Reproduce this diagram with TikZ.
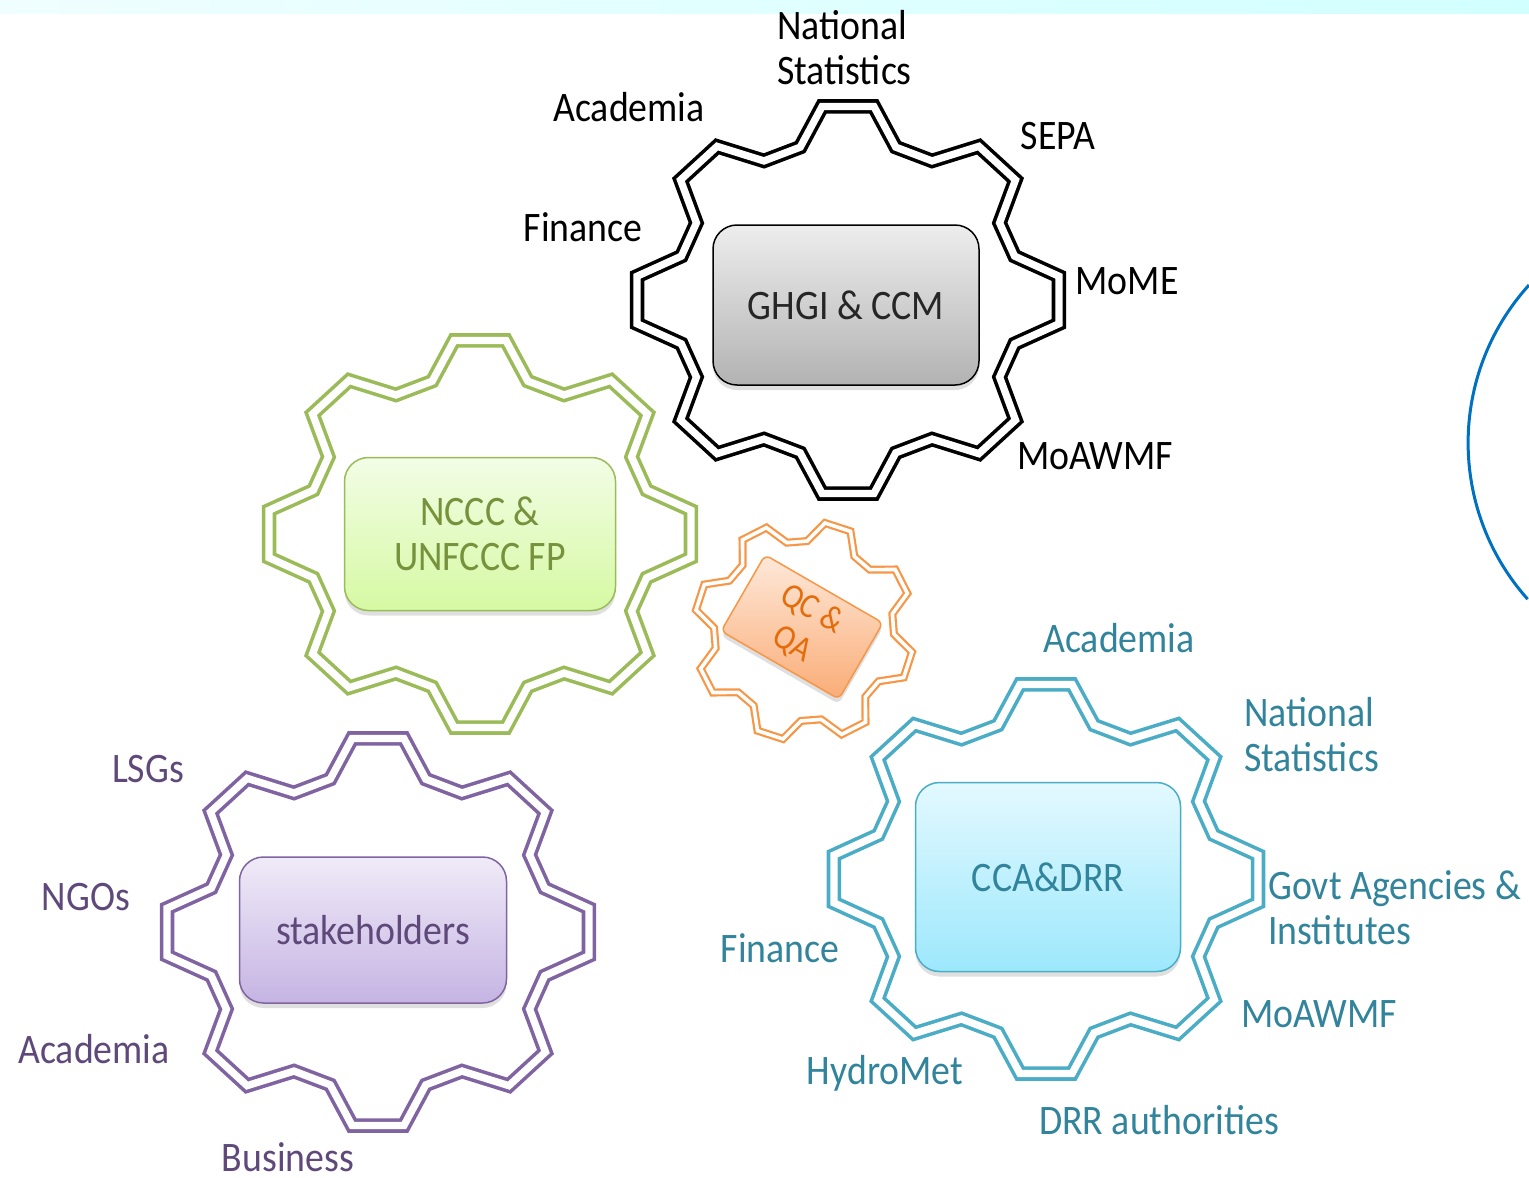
\documentclass[tikz,border=0pt]{standalone}
\usepackage{fontspec}
\setmainfont{Carlito}[FakeStretch=0.9]
\usepackage{tikz}
\usetikzlibrary{shadows}

\definecolor{gearGreen}{HTML}{9BBB59}
\definecolor{gearOrange}{HTML}{F79646}
\definecolor{gearPurple}{HTML}{8064A2}
\definecolor{gearBlue}{HTML}{4BACC6}
\definecolor{txtGreen}{HTML}{76923C}
\definecolor{txtOrange}{HTML}{E46C0A}
\definecolor{txtPurple}{HTML}{5F497A}
\definecolor{txtBlue}{HTML}{31849B}
\definecolor{arcBlue}{HTML}{0070C0}
\newcommand{\lblfont}{\fontsize{42}{45}\selectfont}

\begin{document}
\begin{tikzpicture}[x=1pt, y=-1pt,
    gear/.style={double=white, line join=miter},
    box/.style={rounded corners=24pt, line width=1.5pt, align=center, font=\lblfont,
      drop shadow={opacity=0.25, shadow xshift=0pt, shadow yshift=-5pt}},
    lbl/.style={font=\lblfont, inner sep=0pt}]
    \useasboundingbox (0,0) rectangle (1529,1178);

    % Top band
    \shade[left color=blue!4!cyan!6, middle color=blue!3!cyan!3, right color=cyan!18] (0,0) rectangle (1529,13);

    % Arc at the right edge
    \draw[arcBlue, line width=3pt] (1529,285) arc[start angle=222.2, end angle=138.3, radius=235];

    % Gears: centre / xscale / first tooth / tip / root / colour / line / gap
    \foreach \gx/\gy/\gq/\ga/\gt/\gr/\gc/\gw/\gd in {
        848/300/1.09/90/195/159/black/3.6pt/7.3pt,
        480/534/1.09/90/195/159/gearGreen/3.6pt/7.3pt,
        378/932/1.09/90/195/159/gearPurple/3.6pt/7.3pt,
        1046/879/1.09/90/196/160/gearBlue/3.6pt/7.3pt,
        804/631/1/18/110/90/gearOrange/2.2pt/3.6pt}
    {
      \draw[gear, draw=\gc, line width=\gw, double distance=\gd, shift={(\gx,\gy)}, xscale=\gq]
        ({\ga+7}:\gt) -- ({\ga+16}:\gr)
        \foreach \k in {1,...,7} {
          -- ({\ga+45*\k-16}:\gr) -- ({\ga+45*\k-7}:\gt) -- ({\ga+45*\k+7}:\gt) -- ({\ga+45*\k+16}:\gr)
        }
        -- ({\ga-16}:\gr) -- ({\ga-7}:\gt) -- cycle;
    }

    % Boxes
    \node[box, draw=black, top color=black!7, bottom color=black!30, text=black!85,
      minimum width=266pt, minimum height=160pt] (ghgi) at (846,305) {GHGI \& CCM};
    \node[box, draw=gearGreen, top color={rgb,255:red,242;green,253;blue,230}, bottom color={rgb,255:red,214;green,249;blue,163}, text=txtGreen,
      minimum width=271pt, minimum height=153pt] (nccc) at (480,534) {NCCC \&\\UNFCCC FP};
    \node[box, draw=gearOrange, top color={rgb,255:red,254;green,233;blue,218}, bottom color={rgb,255:red,250;green,172;blue,118}, text=txtOrange,
      rounded corners=6pt, font=\fontsize{35}{40}\selectfont, rotate=-30,
      minimum width=136pt, minimum height=88pt] (qcqa) at (802,627) {QC \&\\QA};
    \node[box, draw=gearPurple, top color={rgb,255:red,240;green,235;blue,248}, bottom color={rgb,255:red,197;green,180;blue,227}, text=txtPurple,
      minimum width=267pt, minimum height=146pt] (stake) at (373,930) {stakeholders};
    \node[box, draw=gearBlue, top color={rgb,255:red,227;green,249;blue,255}, bottom color={rgb,255:red,157;green,232;blue,252}, text=txtBlue,
      minimum width=265pt, minimum height=189pt] (cca) at (1048,877) {CCA\&DRR};

    % Labels round GHGI & CCM
    \node[lbl, anchor=west, align=left] (ghgiNat) at (777,48) {National\\Statistics};
    \node[lbl, anchor=base] (ghgiAcad) at (629,121) {Academia};
    \node[lbl, anchor=base] (ghgiSepa) at (1058,149) {SEPA};
    \node[lbl, anchor=base] (ghgiFin) at (583,241) {Finance};
    \node[lbl, anchor=base] (ghgiMome) at (1127,294) {MoME};
    \node[lbl, anchor=base] (ghgiMoa) at (1095,469) {MoAWMF};

    % Labels round stakeholders
    \node[lbl, anchor=base, text=txtPurple] (stLsg) at (148,782) {LSGs};
    \node[lbl, anchor=base, text=txtPurple] (stNgo) at (86,910) {NGOs};
    \node[lbl, anchor=base, text=txtPurple] (stAcad) at (94,1063) {Academia};
    \node[lbl, anchor=base, text=txtPurple, text depth=0pt] (stBus) at (288,1171) {Business};

    % Labels round CCA&DRR
    \node[lbl, anchor=base, text=txtBlue] (ccaAcad) at (1119,652) {Academia};
    \node[lbl, anchor=west, align=left, text=txtBlue] (ccaNat) at (1244,735) {National\\Statistics};
    \node[lbl, anchor=west, align=left, text=txtBlue] (ccaGov) at (1268,908) {Govt Agencies \&\\Institutes};
    \node[lbl, anchor=base, text=txtBlue] (ccaFin) at (780,962) {Finance};
    \node[lbl, anchor=base, text=txtBlue] (ccaMoa) at (1319,1027) {MoAWMF};
    \node[lbl, anchor=base, text=txtBlue] (ccaHyd) at (885,1084) {HydroMet};
    \node[lbl, anchor=base, text=txtBlue] (ccaDrr) at (1159,1134) {DRR authorities};
\end{tikzpicture}
\end{document}
